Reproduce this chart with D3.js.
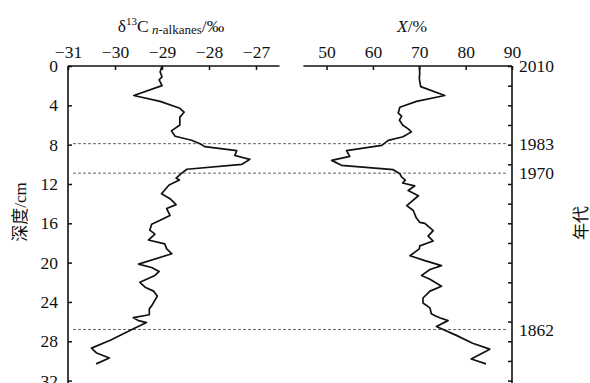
<!DOCTYPE html>
<html lang="zh_cn">
  <head>
    <meta charset="utf-8">
    <title>深度剖面</title>
    <style>
      body { margin: 0; background: #fff; }
    </style>
  </head>
  <body>
    <div id="chart"></div>
  </body>
  <script src="https://d3js.org/d3.v7.min.js"></script>
  <script type="text/javascript">
    // δ13C n-alkanes (‰) vs depth (cm)
    var depthC = [0, 0.6, 1.1, 1.4, 2.0, 3.0, 3.6, 4.3, 4.7, 5.2, 6.0, 6.6, 7.15, 7.55, 7.9, 8.2, 8.6, 9.1, 9.5, 10.0,
      10.5, 10.9, 11.4, 11.6, 12.1, 13.0, 13.5, 14.1, 14.5, 15.2, 15.7, 16.1, 16.7, 17.1, 17.7, 18.1, 18.6, 19.1, 20.15, 20.5,
      20.9, 21.3, 22.0, 22.5, 22.9, 23.4, 24.4, 24.7, 25.3, 25.6, 25.9, 26.1, 26.8, 27.9, 28.7, 29.2, 29.7, 30.3];
    var valueC = [-29.0, -29.04, -29.0, -29.06, -29.0, -29.6, -29.04, -28.62, -28.53, -28.62, -28.62, -28.8, -28.72, -28.37, -28.19, -28.09, -27.41, -27.45, -27.13, -27.3,
      -28.47, -28.58, -28.7, -28.63, -28.85, -29.01, -28.83, -28.7, -28.9, -28.83, -29.04, -29.22, -29.26, -29.15, -29.29, -28.94, -28.9, -28.79, -29.5, -29.22,
      -29.06, -29.15, -29.47, -29.36, -29.18, -29.1, -29.22, -29.27, -29.27, -29.61, -29.5, -29.33, -29.64, -30.1, -30.5, -30.39, -30.12, -30.4];

    // X (%) vs depth (cm)
    var depthX = [0, 0.75, 1.26, 2.1, 3.0, 3.6, 4.2, 4.8, 5.1, 5.5, 6.0, 6.4, 6.7, 7.2, 7.56, 8.07, 8.6, 9.2, 9.6, 10.1,
      10.55, 10.96, 11.3, 11.6, 11.9, 12.2, 12.67, 13.2, 14.2, 14.7, 15.4, 15.9, 16.0, 16.75, 17.3, 17.8, 18.3, 18.6, 19.3, 19.8,
      20.3, 20.7, 21.3, 21.7, 22.4, 22.9, 23.6, 24.1, 24.6, 25.2, 25.4, 25.6, 25.9, 26.5, 27.4, 28.2, 28.8, 29.8, 30.3];
    var valueX = [70.0, 70.1, 70.0, 70.3, 75.5, 69.4, 65.8, 65.45, 66.2, 65.7, 66.4, 67.6, 68.3, 66.5, 63.3, 61.9, 54.3, 55.0, 51.1, 53.2,
      64.4, 65.8, 66.2, 67.0, 66.4, 69.0, 67.6, 69.8, 67.3, 68.7, 69.3, 70.1, 71.2, 73.0, 71.9, 73.0, 70.1, 70.0, 68.0, 71.2,
      74.8, 72.3, 70.5, 72.3, 74.8, 72.3, 70.8, 70.8, 72.3, 72.6, 73.4, 74.4, 76.2, 73.7, 78.0, 81.5, 85.2, 81.2, 84.4];

    var ticksC = [-31, -30, -29, -28, -27];
    var ticksX = [50, 60, 70, 80, 90];
    var ticksDepth = [0, 4, 8, 12, 16, 20, 24, 28, 32];
    var markDepth = [0, 7.9, 10.9, 26.8];
    var markYear = ["2010", "1983", "1970", "1862"];

    var FONT = "'Liberation Serif', 'Times New Roman', 'Noto Sans CJK SC', serif";
    var width = 590, height = 383;
    var svg = d3.select("#chart").append("svg")
      .attr("width", width)
      .attr("height", height)
      .attr("font-family", FONT);

    var xL = d3.scaleLinear().domain([-31, -26.5]).range([68, 279.5]);
    var xR = d3.scaleLinear().domain([45, 90]).range([303.4, 512]);
    var y = d3.scaleLinear().domain([0, 32]).range([66, 380.6]);

    //分组
    var gGrid = svg.append("g");
    var gAxis = svg.append("g");
    var gLine = svg.append("g");
    var gText = svg.append("g");

    // 虚线
    gGrid.selectAll("line")
      .data(markDepth.slice(1))
      .enter()
      .append("line")
      .attr("x1", 73).attr("x2", 507)
      .attr("y1", function(d) { return y(d); })
      .attr("y2", function(d) { return y(d); })
      .attr("stroke", "#666")
      .attr("stroke-width", 1)
      .attr("stroke-dasharray", "3,2");

    // 坐标轴
    var topL = gAxis.append("g")
      .attr("transform", "translate(0," + y(0) + ")")
      .call(d3.axisTop(xL).tickValues(ticksC).tickSizeInner(-4).tickSizeOuter(0).tickPadding(8).tickFormat(d3.format("d")));
    var topR = gAxis.append("g")
      .attr("transform", "translate(0," + y(0) + ")")
      .call(d3.axisTop(xR).tickValues(ticksX).tickSizeInner(-4).tickSizeOuter(0).tickPadding(8));
    var left = gAxis.append("g")
      .attr("transform", "translate(" + xL(-31) + ",0)")
      .call(d3.axisLeft(y).tickValues(ticksDepth).tickSizeInner(-4).tickSizeOuter(0).tickPadding(10));
    var right = gAxis.append("g")
      .attr("transform", "translate(" + xR(90) + ",0)")
      .call(d3.axisRight(y).tickValues(d3.range(0, 33, 2)).tickSizeInner(-4).tickSizeOuter(0).tickFormat(""));

    [topL, topR, left, right].forEach(function(g) {
      g.attr("font-family", FONT).attr("font-size", 17.5);
      g.select(".domain").remove();
      g.selectAll(".tick line").attr("stroke", "#111").attr("stroke-width", 1.5);
      g.selectAll(".tick text").attr("fill", "#111");
    });

    // 轴线
    var axisLines = [
      [xL(-31), y(0), xL(-26.5), y(0)],
      [xR(45), y(0), xR(90), y(0)],
      [xL(-31), y(0), xL(-31), height + 2],
      [xR(90), y(0), xR(90), height + 2]
    ];
    gAxis.selectAll("line.axis")
      .data(axisLines)
      .enter()
      .append("line")
      .attr("class", "axis")
      .attr("x1", function(d) { return d[0]; })
      .attr("y1", function(d) { return d[1]; })
      .attr("x2", function(d) { return d[2]; })
      .attr("y2", function(d) { return d[3]; })
      .attr("stroke", "#111")
      .attr("stroke-width", 1.6);

    // 曲线
    var lineC = d3.line()
      .x(function(d, i) { return xL(valueC[i]); })
      .y(function(d) { return y(d); });
    var lineX = d3.line()
      .x(function(d, i) { return xR(valueX[i]); })
      .y(function(d) { return y(d); });
    gLine.append("path")
      .attr("d", lineC(depthC))
      .attr("fill", "none").attr("stroke", "#111").attr("stroke-width", 1.7)
      .attr("stroke-linejoin", "round");
    gLine.append("path")
      .attr("d", lineX(depthX))
      .attr("fill", "none").attr("stroke", "#111").attr("stroke-width", 1.7)
      .attr("stroke-linejoin", "round");

    // 年代
    gText.selectAll("text.year")
      .data(markYear)
      .enter()
      .append("text")
      .attr("class", "year")
      .attr("x", xR(90) + 7)
      .attr("y", function(d, i) { return y(markDepth[i]); })
      .attr("dy", "0.35em")
      .attr("font-size", 17.5)
      .attr("fill", "#111")
      .text(function(d) { return d; });

    // 标题
    var t1 = gText.append("text")
      .attr("x", 171).attr("y", 31.5)
      .attr("text-anchor", "middle")
      .attr("font-size", 17.5)
      .attr("fill", "#111");
    t1.append("tspan").text("δ");
    t1.append("tspan").attr("font-size", 11).attr("dy", -7).text("13");
    t1.append("tspan").attr("dy", 7).text("C");
    t1.append("tspan").attr("font-size", 13).attr("dy", 2).attr("font-style", "italic").text(" n");
    t1.append("tspan").attr("font-size", 13).text("-alkanes");
    t1.append("tspan").attr("dy", -2).text("/‰");

    var t2 = gText.append("text")
      .attr("x", 412).attr("y", 31.5)
      .attr("text-anchor", "middle")
      .attr("font-size", 17.5)
      .attr("fill", "#111");
    t2.append("tspan").attr("font-style", "italic").text("X");
    t2.append("tspan").text("/%");

    gText.append("text")
      .attr("transform", "translate(26,212) rotate(-90)")
      .attr("text-anchor", "middle")
      .attr("font-size", 17)
      .attr("fill", "#111")
      .text("深度/cm");

    gText.append("text")
      .attr("transform", "translate(587,223) rotate(-90)")
      .attr("text-anchor", "middle")
      .attr("font-size", 17)
      .attr("fill", "#111")
      .text("年代");
  </script>
</html>
